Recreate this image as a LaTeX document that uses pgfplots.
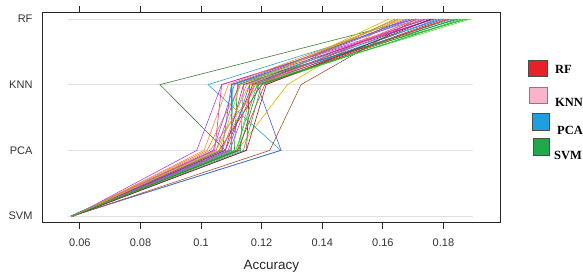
\documentclass[border=0pt]{standalone}
\usepackage{fontspec}
\setmainfont{Liberation Sans}
\newfontfamily\serifb{Liberation Serif}
\usepackage{pgfplots}
\pgfplotsset{compat=1.18}
\definecolor{c1}{HTML}{3F7A3A}
\definecolor{c2}{HTML}{2FA0C8}
\definecolor{c3}{HTML}{5060E0}
\definecolor{c4}{HTML}{A0522D}
\definecolor{c5}{HTML}{B040E0}
\definecolor{c6}{HTML}{E020C0}
\definecolor{c7}{HTML}{E0B000}
\definecolor{c8}{HTML}{F08020}
\definecolor{c9}{HTML}{20C020}
\definecolor{c10}{HTML}{60D040}
\definecolor{c11}{HTML}{E02020}
\definecolor{c12}{HTML}{D01830}
\definecolor{c13}{HTML}{FF60A0}
\definecolor{c14}{HTML}{20A0A0}
\definecolor{c15}{HTML}{A02040}
\definecolor{c16}{HTML}{9050D0}
\definecolor{c17}{HTML}{D030D0}
\definecolor{c18}{HTML}{A0A020}
\definecolor{c19}{HTML}{10A030}
\definecolor{c20}{HTML}{3070E0}
\definecolor{c21}{HTML}{F07070}
\definecolor{c22}{HTML}{8040A0}
\definecolor{c23}{HTML}{E83020}
\definecolor{c24}{HTML}{30B050}
\definecolor{c25}{HTML}{F09030}
\definecolor{c26}{HTML}{C020A0}
\definecolor{c27}{HTML}{20C0D0}
\definecolor{c28}{HTML}{902030}
\definecolor{c29}{HTML}{B0C020}
\definecolor{c30}{HTML}{E040A0}
\definecolor{c31}{HTML}{208040}
\definecolor{c32}{HTML}{6A5ACD}
\definecolor{lgred}{HTML}{E8202A}
\definecolor{lgpink}{HTML}{F9B4C8}
\definecolor{lgblue}{HTML}{1E9FE0}
\definecolor{lggreen}{HTML}{22A84A}
\begin{document}
\begin{tikzpicture}
\begin{axis}[
  at={(0pt,0pt)}, anchor=south west,
  width=458.7pt, height=209.7pt, scale only axis,
  xmin=0.0475, xmax=0.1989, ymin=0.898, ymax=4.091,
  xtick={0.06,0.08,0.1,0.12,0.14,0.16,0.18},
  xticklabels={0.06,0.08,0.1,0.12,0.14,0.16,0.18},
  xtick pos=both, xticklabel pos=bottom,
  ytick={1,2,3,4}, yticklabels={SVM,PCA,KNN,RF},
  ytick pos=left,
  tick align=outside,
  major tick length=6pt,
  axis line style={draw=black!85, line width=1pt},
  xtick style={draw=black!85, line width=1pt},
  ytick style={draw=none},
  ticklabel style={font=\fontsize{11}{11}\selectfont, text=black!80},
  xticklabel style={yshift=-7pt},
  /pgf/number format/assume math mode=true,
  xlabel={Accuracy},
  xlabel style={font=\fontsize{13.5}{14}\selectfont, text=black!85, yshift=-6pt},
  every axis plot/.append style={line width=0.6pt},
  clip=false,
]
% reference lines
\addplot[black!12, forget plot] coordinates {(0.056,1)(0.1898,1)};
\addplot[black!12, forget plot] coordinates {(0.056,2)(0.1898,2)};
\addplot[black!12, forget plot] coordinates {(0.056,3)(0.1898,3)};
\addplot[black!12, forget plot] coordinates {(0.056,4)(0.1898,4)};
% resamples: (SVM,1) (PCA,2) (KNN,3) (RF,4)
\addplot[c1]  coordinates {(0.0572,1)(0.1080,2)(0.0864,3)(0.1710,4)};
\addplot[c2]  coordinates {(0.0575,1)(0.1263,2)(0.1023,3)(0.1720,4)};
\addplot[c3]  coordinates {(0.0570,1)(0.1264,2)(0.1185,3)(0.1780,4)};
\addplot[c4]  coordinates {(0.0578,1)(0.1227,2)(0.1330,3)(0.1710,4)};
\addplot[c5]  coordinates {(0.0580,1)(0.0986,2)(0.1068,3)(0.1750,4)};
\addplot[c6]  coordinates {(0.0575,1)(0.1045,2)(0.1068,3)(0.1770,4)};
\addplot[c7]  coordinates {(0.0578,1)(0.1120,2)(0.1285,3)(0.1650,4)};
\addplot[c8]  coordinates {(0.0576,1)(0.1020,2)(0.1130,3)(0.1650,4)};
\addplot[c9]  coordinates {(0.0574,1)(0.1100,2)(0.1100,3)(0.1880,4)};
\addplot[c10] coordinates {(0.0573,1)(0.1120,2)(0.1170,3)(0.1890,4)};
\addplot[c11] coordinates {(0.0577,1)(0.1080,2)(0.1170,3)(0.1820,4)};
\addplot[c12] coordinates {(0.0579,1)(0.1060,2)(0.1200,3)(0.1800,4)};
\addplot[c13] coordinates {(0.0576,1)(0.1070,2)(0.1150,3)(0.1720,4)};
\addplot[c14] coordinates {(0.0572,1)(0.1130,2)(0.1140,3)(0.1830,4)};
\addplot[c15] coordinates {(0.0575,1)(0.1150,2)(0.1160,3)(0.1760,4)};
\addplot[c16] coordinates {(0.0571,1)(0.1040,2)(0.1110,3)(0.1700,4)};
\addplot[c17] coordinates {(0.0578,1)(0.1050,2)(0.1125,3)(0.1680,4)};
\addplot[c18] coordinates {(0.0574,1)(0.1065,2)(0.1180,3)(0.1640,4)};
\addplot[c19] coordinates {(0.0577,1)(0.1110,2)(0.1120,3)(0.1850,4)};
\addplot[c20] coordinates {(0.0573,1)(0.1090,2)(0.1160,3)(0.1790,4)};
\addplot[c21] coordinates {(0.0580,1)(0.1030,2)(0.1190,3)(0.1710,4)};
\addplot[c22] coordinates {(0.0576,1)(0.1100,2)(0.1100,3)(0.1770,4)};
\addplot[c23] coordinates {(0.0574,1)(0.1120,2)(0.1210,3)(0.1810,4)};
\addplot[c24] coordinates {(0.0575,1)(0.1140,2)(0.1200,3)(0.1860,4)};
\addplot[c25] coordinates {(0.0579,1)(0.1010,2)(0.1090,3)(0.1670,4)};
\addplot[c26] coordinates {(0.0572,1)(0.1080,2)(0.1140,3)(0.1740,4)};
\addplot[c27] coordinates {(0.0576,1)(0.1100,2)(0.1105,3)(0.1800,4)};
\addplot[c28] coordinates {(0.0578,1)(0.1150,2)(0.1215,3)(0.1760,4)};
\addplot[c29] coordinates {(0.0573,1)(0.1060,2)(0.1130,3)(0.1660,4)};
\addplot[c30] coordinates {(0.0577,1)(0.1095,2)(0.1175,3)(0.1730,4)};
\addplot[c31] coordinates {(0.0574,1)(0.1125,2)(0.1190,3)(0.1840,4)};
\addplot[c32] coordinates {(0.0571,1)(0.1070,2)(0.1100,3)(0.1690,4)};
\addplot[c7]  coordinates {(0.0577,1)(0.1050,2)(0.1160,3)(0.1620,4)};
\addplot[c9]  coordinates {(0.0575,1)(0.1115,2)(0.1185,3)(0.1870,4)};
% tick marks (drawn explicitly)
\pgfplotsinvokeforeach{0.06,0.08,0.1,0.12,0.14,0.16,0.18}{
  \draw[black!85, line width=1pt] (axis cs:#1,0.898) -- ++(0pt,-6pt);
  \draw[black!85, line width=1pt] (axis cs:#1,4.091) -- ++(0pt,7pt);
}
\end{axis}
% legend
\begin{scope}[line width=0.8pt]
\filldraw[fill=lgred,   draw=black!70] (486pt,146.7pt) rectangle (505pt,162.7pt);
\filldraw[fill=lgpink,  draw=black!50] (487pt,119.7pt) rectangle (505pt,135.7pt);
\filldraw[fill=lgblue,  draw=black!70] (490pt,92.7pt)  rectangle (507pt,109.7pt);
\filldraw[fill=lggreen, draw=black!70] (491pt,67.7pt)  rectangle (507pt,84.7pt);
\end{scope}
\node[anchor=base west, inner sep=0, font=\serifb\bfseries\fontsize{12.5}{12}\selectfont] at (513pt,148.7pt) {RF};
\node[anchor=base west, inner sep=0, font=\serifb\bfseries\fontsize{12.5}{12}\selectfont] at (513pt,115.7pt) {KNN};
\node[anchor=base west, inner sep=0, font=\serifb\bfseries\fontsize{12.5}{12}\selectfont] at (515pt,87.7pt) {PCA};
\node[anchor=base west, inner sep=0, font=\serifb\bfseries\fontsize{12.5}{12}\selectfont] at (512pt,62.7pt) {SVM};
\pgfresetboundingbox
\path[use as bounding box] (-42pt,-57.3pt) rectangle (541pt,222.7pt);
\end{tikzpicture}
\end{document}
